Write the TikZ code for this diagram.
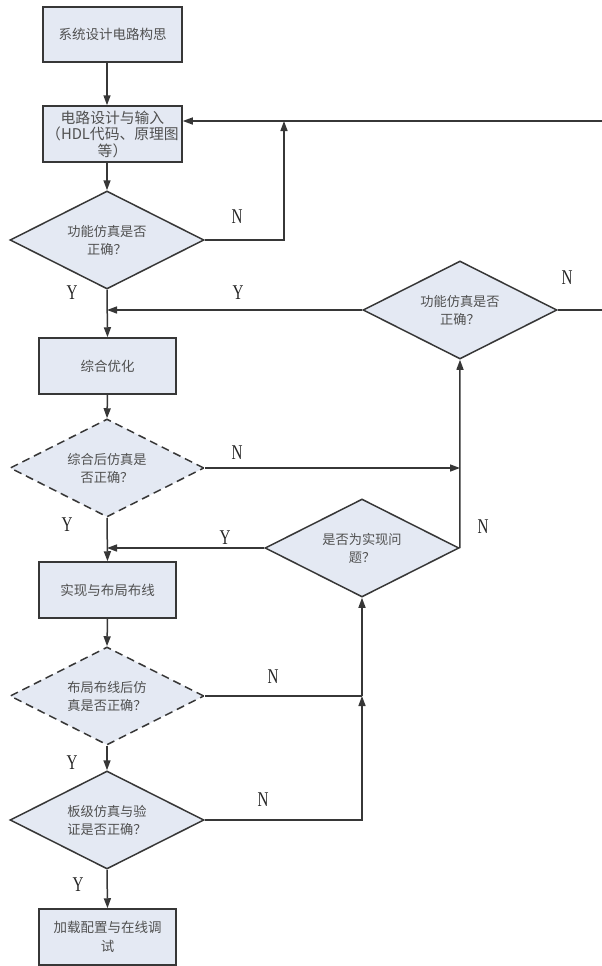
\documentclass[tikz,border=0pt]{standalone}
\usepackage{fontspec}
\setmainfont{Liberation Serif}
\newfontfamily\cjk{Noto Sans CJK SC}
\newfontfamily\labfont[FakeStretch=0.72]{Liberation Serif}
\usetikzlibrary{shapes.geometric,arrows.meta}
\definecolor{boxfill}{RGB}{228,233,243}
\definecolor{edgec}{RGB}{55,55,55}
\definecolor{txtc}{RGB}{80,80,80}
\begin{document}
\begin{tikzpicture}[x=1pt,y=-1pt,
  box/.style={draw=edgec,fill=boxfill,line width=1.5pt,minimum width=137pt,minimum height=56pt,inner sep=0pt,align=center,font=\cjk\fontsize{13.5}{18.5}\selectfont,text=txtc},
  decision/.style={diamond,aspect=2,draw=edgec,fill=boxfill,line width=1.5pt,minimum width=194pt,minimum height=98pt,inner sep=0pt,align=center,font=\cjk\fontsize{13.2}{18}\selectfont,text=txtc},
  dashdec/.style={decision,dash pattern=on 8pt off 5pt},
  conn/.style={draw=edgec,line width=1.5pt},
  arr/.style={conn,-{Triangle[length=10pt,width=7pt]}},
  lab/.style={font=\labfont\fontsize{21}{21}\selectfont,text=black!85,inner sep=0pt}]
\useasboundingbox (0,0) rectangle (602,966);
% boxes
\node[box,minimum width=139pt,minimum height=55pt] (B1) at (112.5,34.5) {系统设计电路构思};
\node[box,minimum width=139pt,font=\cjk\fontsize{14.8}{16.5}\selectfont] (B2) at (112.5,134) {电路设计与输入\\（HDL代码、原理图\\等）};
\node[box] (B3) at (107.5,366) {综合优化};
\node[box] (B4) at (107.5,590) {实现与布局布线};
\node[box] (B5) at (107.5,937) {加载配置与在线调\\试};
% decisions
\node[decision] (D1) at (107,240) {功能仿真是否\\正确？};
\node[decision] (D2) at (460,310) {功能仿真是否\\正确？};
\node[dashdec] (D3) at (107,468) {综合后仿真是\\否正确？};
\node[decision] (D4) at (362,548) {是否为实现问\\题？};
\node[dashdec] (D5) at (107,696) {布局布线后仿\\真是否正确？};
\node[decision] (D6) at (107,820) {板级仿真与验\\证是否正确？};
% helper coordinates
\coordinate (j1) at (284,121);
\coordinate (e1) at (602,121);
\coordinate (e2) at (602,310);
\coordinate (j5) at (D4.south |- D5.east);
% main flow
\draw[arr] (D1.north |- B1.south) -- (D1.north |- B2.north);
\draw[arr] (D1.north |- B2.south) -- (D1.north);
\draw[arr] (D1.south) -- (B3.north);
\draw[arr] (B3.south) -- (D3.north);
\draw[arr] (D3.south) -- (B4.north);
\draw[arr] (B4.south) -- (D5.north);
\draw[arr] (D5.south) -- (D6.north);
\draw[arr] (D6.south) -- (B5.north);
% feedback
\draw[arr] (D1.east) -| (j1);
\draw[arr] (e1) -- (B2.east |- e1);
\draw[conn] (D2.east) -- (e2);
\draw[arr] (D2.west) -- (D1.south |- D2.west);
\draw[arr] (D3.east) -- (D2.south |- D3.east);
\draw[arr] (D4.east) -- (D2.south);
\draw[arr] (D4.west) -- (D1.south |- D4.west);
\draw[conn] (D5.east) -- (j5);
\draw[arr] (j5) -- (D4.south);
\draw[arr] (D6.east) -| (j5);
% labels
\node[lab] (n1) at (237,217) {N};
\node[lab] (y1) at (72,293) {Y};
\node[lab] (y2) at (238,293) {Y};
\node[lab] (n2) at (567,278) {N};
\node[lab] (n3) at (237,453) {N};
\node[lab] (y3) at (67,525) {Y};
\node[lab] (y4) at (225,538) {Y};
\node[lab] (n4) at (483,527) {N};
\node[lab] (n5) at (273,677) {N};
\node[lab] (y5) at (72,763) {Y};
\node[lab] (n6) at (263,800) {N};
\node[lab] (y6) at (78,885) {Y};
\end{tikzpicture}
\end{document}
